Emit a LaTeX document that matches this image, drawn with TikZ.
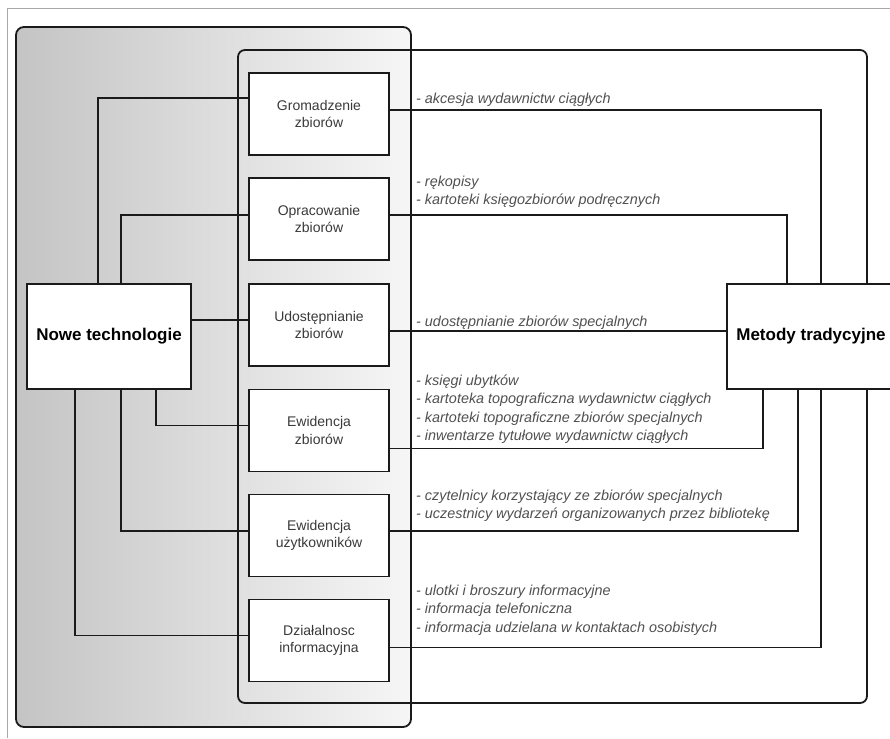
\documentclass[tikz,border=0pt]{standalone}
\usepackage{fontspec}
\setmainfont{Liberation Sans}
\definecolor{linec}{HTML}{1A1A1A}
\definecolor{txtc}{HTML}{3A3A3A}
\definecolor{lblc}{HTML}{505050}
\definecolor{framec}{HTML}{A8A8A8}
\definecolor{grayL}{HTML}{C4C4C4}
\definecolor{grayR}{HTML}{F6F6F6}
\tikzset{
  conn/.style={draw=linec, line width=1.8pt},
  procbox/.style={draw=linec, line width=1.9pt, fill=white, minimum width=140pt, minimum height=82pt, inner sep=0pt, align=center, text=txtc, font=\fontsize{14}{17.5}\selectfont},
  mainbox/.style={draw=linec, line width=1.9pt, fill=white, minimum height=105pt, inner sep=0pt, font=\fontsize{17}{20}\selectfont\bfseries},
  lbl/.style={anchor=base west, inner sep=0pt, text=lblc, font=\fontsize{14.4}{17}\selectfont\itshape}
}
\begin{document}
\begin{tikzpicture}[x=1pt,y=-1pt]
\useasboundingbox (0,0) rectangle (890,738);
% outer frame
\draw[framec, line width=1pt] (7,738) -- (7,9) -- (890,9);
% left shaded container
\shade[left color=grayL, right color=grayR, rounded corners=8pt] (16,27) rectangle (411,727);
\draw[linec, line width=1.8pt, rounded corners=8pt] (16,27) rectangle (411,727);
% right container
\draw[linec, line width=1.8pt, rounded corners=7pt] (238,50) rectangle (867,703);

% nodes
\node[mainbox, minimum width=164pt] (nt) at (109,336.5) {Nowe technologie};
\node[mainbox, minimum width=168pt] (mt) at (811,336.5) {Metody tradycyjne};
\node[procbox] (b1) at (319,114) {Gromadzenie\\zbiorów};
\node[procbox] (b2) at (319,219) {Opracowanie\\zbiorów};
\node[procbox] (b3) at (319,325) {Udostępnianie\\zbiorów};
\node[procbox] (b4) at (319,430.5) {Ewidencja\\zbiorów};
\node[procbox] (b5) at (319,535.5) {Ewidencja\\użytkowników};
\node[procbox] (b6) at (319,640.5) {Działalnosc\\informacyjna};

% left connectors
\draw[conn] ([xshift=72pt]nt.north west) |- ([yshift=16pt]b1.west);
\draw[conn] ([xshift=95pt]nt.north west) |- ([yshift=4pt]b2.west);
\coordinate (b3w) at ([yshift=5pt]b3.west);
\draw[conn] (b3w) -- (b3w -| nt.east);
\draw[conn] ([xshift=130pt]nt.south west) |- ([yshift=5pt]b4.west);
\draw[conn] ([xshift=95pt]nt.south west) |- ([yshift=4.5pt]b5.west);
\draw[conn] ([xshift=49pt]nt.south west) |- ([yshift=5pt]b6.west);
% right connectors
\draw[conn] ([yshift=4pt]b1.east) -| ([xshift=95pt]mt.north west);
\draw[conn] ([yshift=4pt]b2.east) -| ([xshift=61pt]mt.north west);
\coordinate (b3e) at ([yshift=-6pt]b3.east);
\draw[conn] (b3e) -- (b3e -| mt.west);
\draw[conn] ([yshift=-18pt]b4.east) -| ([xshift=37pt]mt.south west);
\draw[conn] ([yshift=4.5pt]b5.east) -| ([xshift=72pt]mt.south west);
\draw[conn] ([yshift=-7pt]b6.east) -| ([xshift=95pt]mt.south west);

% labels
\node[lbl] (l11) at (416,104) {- akcesja wydawnictw ciągłych};
\node[lbl] (l21) at (416,186) {- rękopisy};
\node[lbl] (l22) at (416,204.5) {- kartoteki księgozbiorów podręcznych};
\node[lbl] (l31) at (416,326) {- udostępnianie zbiorów specjalnych};
\node[lbl] (l41) at (416,385) {- księgi ubytków};
\node[lbl] (l42) at (416,403.5) {- kartoteka topograficzna wydawnictw ciągłych};
\node[lbl] (l43) at (416,422) {- kartoteki topograficzne zbiorów specjalnych};
\node[lbl] (l44) at (416,440.5) {- inwentarze tytułowe wydawnictw ciągłych};
\node[lbl] (l51) at (416,500) {- czytelnicy korzystający ze zbiorów specjalnych};
\node[lbl] (l52) at (416,518.5) {- uczestnicy wydarzeń organizowanych przez bibliotekę};
\node[lbl] (l61) at (416,595) {- ulotki i broszury informacyjne};
\node[lbl] (l62) at (416,613.5) {- informacja telefoniczna};
\node[lbl] (l63) at (416,632) {- informacja udzielana w kontaktach osobistych};
\end{tikzpicture}
\end{document}
